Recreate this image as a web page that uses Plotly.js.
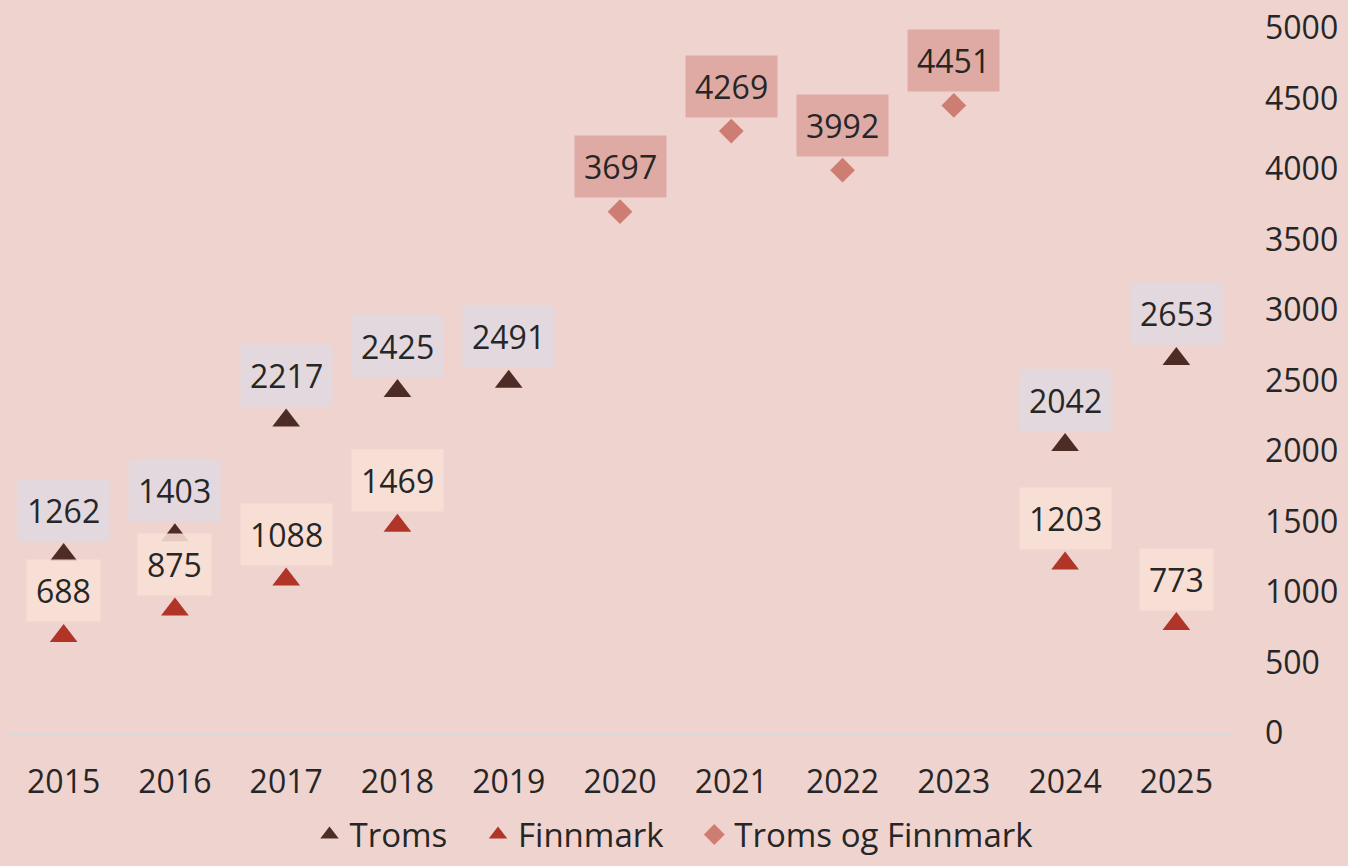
<!DOCTYPE html>
<html>
<head>
<meta charset="utf-8">
<script src="https://cdn.plot.ly/plotly-3.0.1.min.js"></script>
<style>html,body{margin:0;padding:0;background:#efd3cf;}#chart{width:1348px;height:866px;}</style>
</head>
<body>
<div id="chart"></div>
<script>
const years = [2015, 2016, 2017, 2018, 2019, 2020, 2021, 2022, 2023, 2024, 2025];
const troms = [1262, 1403, 2217, 2425, 2491, null, null, null, null, 2042, 2653];
const finnmark = [688, 875, 1088, 1469, null, null, null, null, null, 1203, 773];
const tromsFinnmark = [null, null, null, null, null, 3697, 4269, 3992, 4451, null, null];

const seriesNames = ['Troms', 'Finnmark', 'Troms og Finnmark'];
const markerColors = ['#4e2c26', '#b03428', '#cd7d72'];
const labelColors = ['rgba(226,216,222,0.92)', 'rgba(249,224,214,0.88)', '#dfaaa3'];
const symbols = ['triangle-up', 'triangle-up', 'diamond'];
const sizes = [24, 24, 19];
const allSeries = [troms, finnmark, tromsFinnmark];

const FONT = 'Open Sans, sans-serif';
const TXT = '#262626';
const PAD = '\u00A0\u00A0\u00A0';

const traces = allSeries.map((vals, i) => ({
  type: 'scatter',
  mode: 'markers',
  name: i < allSeries.length - 1 ? seriesNames[i] + PAD : seriesNames[i],
  x: years,
  y: vals,
  marker: {symbol: symbols[i], size: sizes[i], color: markerColors[i]},
  hoverinfo: 'x+y+name'
}));

const annotations = [];
allSeries.forEach((vals, i) => {
  vals.forEach((v, j) => {
    if (v === null) return;
    annotations.push({
      x: years[j], y: v, xref: 'x', yref: 'y',
      text: String(v), showarrow: false,
      yshift: 45,
      bgcolor: labelColors[i], borderpad: 9,
      font: {family: FONT, size: 32, color: TXT}
    });
  });
});

const layout = {
  width: 1348, height: 866,
  paper_bgcolor: '#efd3cf', plot_bgcolor: '#efd3cf',
  margin: {l: 8, r: 116, t: 28, b: 133, autoexpand: false},
  showlegend: true,
  legend: {
    orientation: 'h', x: 0.5, xanchor: 'center', xref: 'container',
    y: 0.004, yanchor: 'bottom', yref: 'container',
    font: {family: FONT, size: 33, color: TXT}, itemwidth: 30,
    bgcolor: 'rgba(0,0,0,0)'
  },
  xaxis: {
    type: 'linear', range: [2014.5, 2025.5], tickmode: 'array', tickvals: years,
    ticktext: years.map(String), automargin: false,
    showgrid: false, zeroline: false,
    showline: true, linecolor: '#d9d9d9', linewidth: 2,
    ticks: '', ticklabelstandoff: 20,
    tickfont: {family: FONT, size: 32, color: TXT}
  },
  yaxis: {
    side: 'right', range: [0, 5000], dtick: 500, automargin: false,
    showgrid: false, zeroline: false, showline: false,
    ticks: '', ticklabelstandoff: 32,
    tickfont: {family: FONT, size: 32, color: TXT}
  },
  annotations: annotations
};

Plotly.newPlot('chart', traces, layout, {displayModeBar: false, staticPlot: true});
</script>
</body>
</html>
